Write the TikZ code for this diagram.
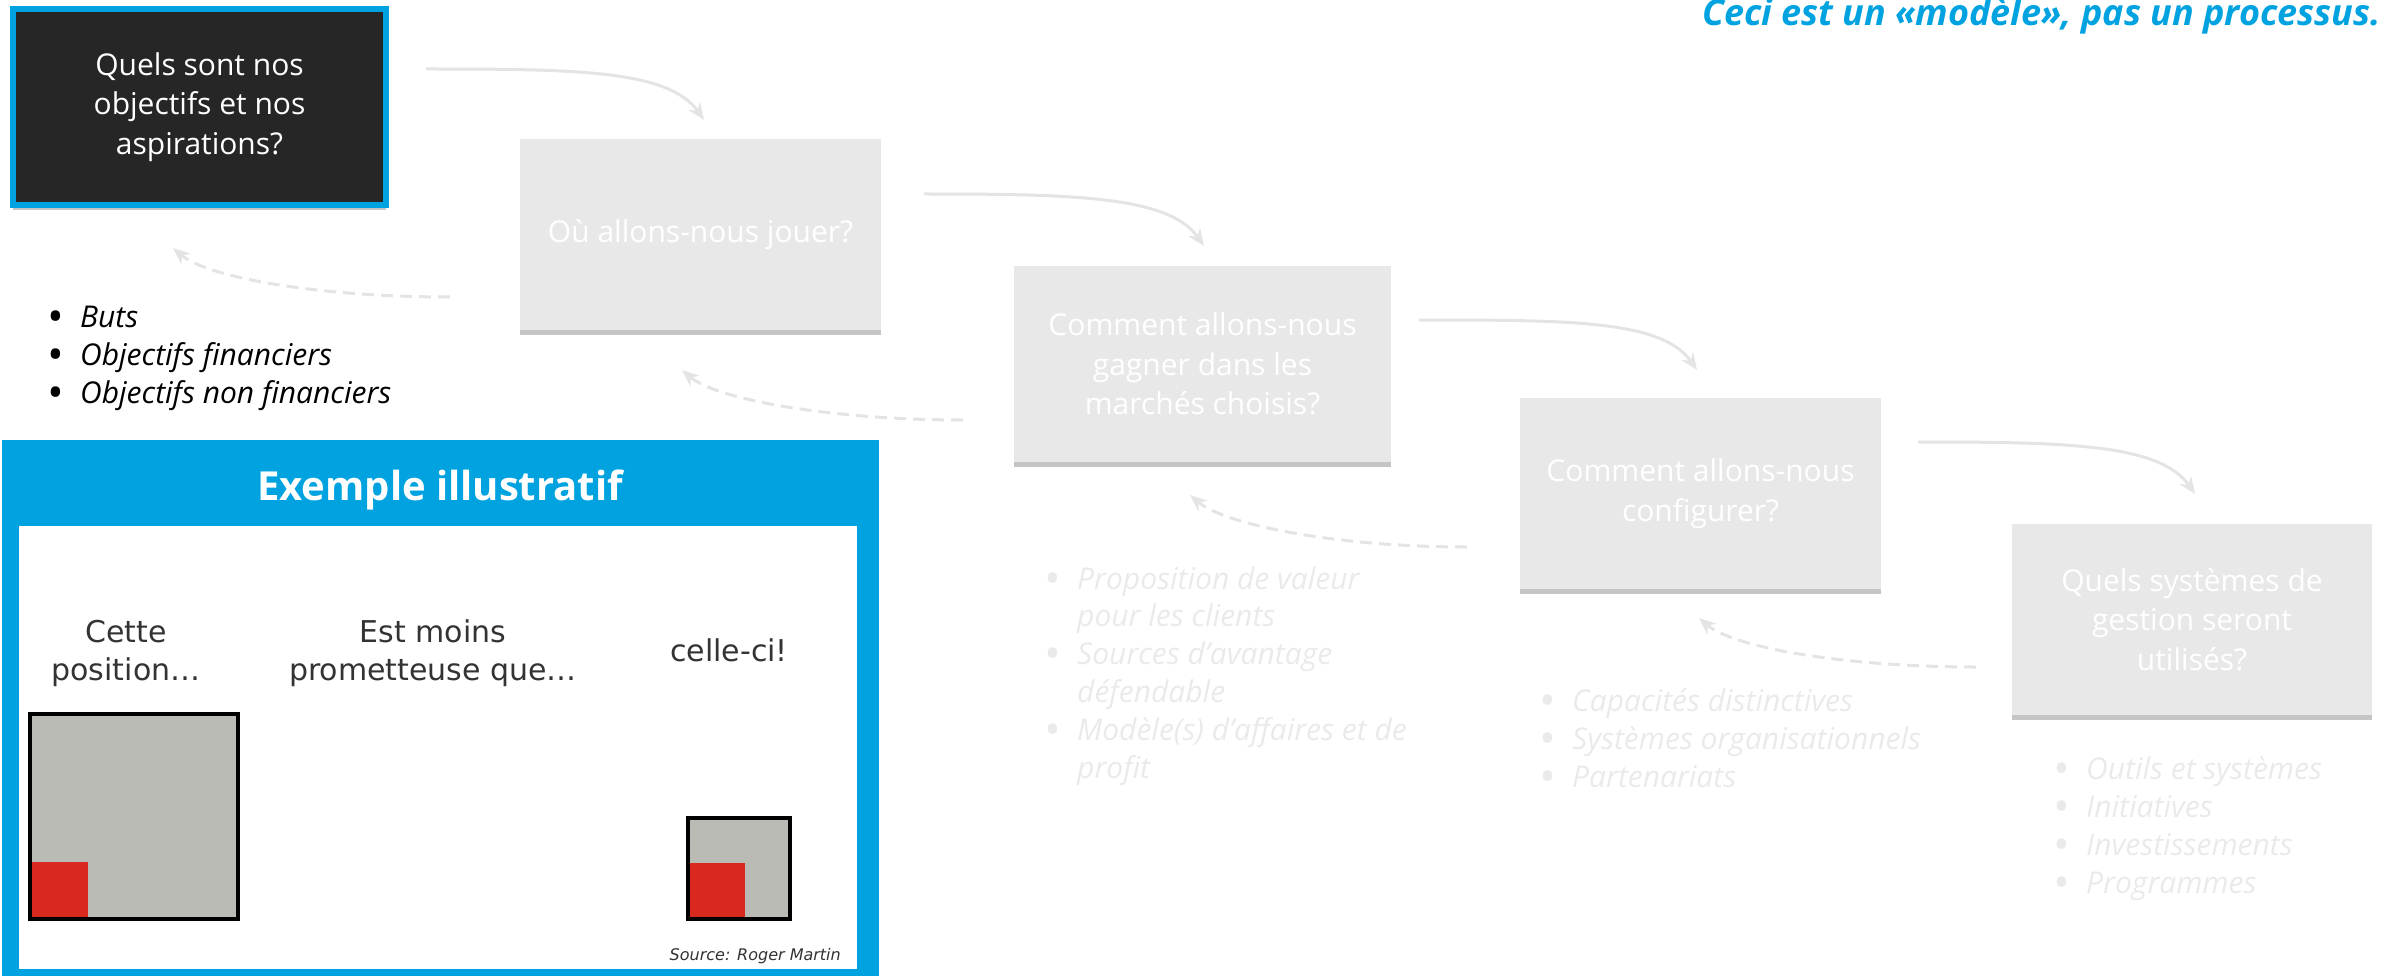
\documentclass[tikz,border=0pt]{standalone}
\usepackage{fontspec}
\usepackage{graphicx}
\setmainfont{Open Sans}
\newfontfamily\dejavu{DejaVu Sans}
\usetikzlibrary{arrows.meta,shadows}
\definecolor{bleu}{RGB}{0,163,224}
\definecolor{fonce}{RGB}{38,38,38}
\definecolor{pale}{RGB}{232,232,232}
\definecolor{trait}{RGB}{228,228,228}
\definecolor{texte}{RGB}{234,234,234}
\definecolor{carre}{RGB}{187,187,182}
\definecolor{rouge}{RGB}{217,41,30}
\definecolor{gris}{RGB}{51,51,51}
\newcommand\puce[1]{\makebox[0pt][r]{\raisebox{-5pt}[0pt][0pt]{\scalebox{1.5}{\textbullet}}\hspace{17pt}}#1}
\tikzset{
  question/.style={fill=pale,text=white,align=center,inner sep=0pt,
    font=\fontsize{30}{39.5}\selectfont,
    drop shadow={shadow xshift=0pt,shadow yshift=-5pt,fill=black!45,opacity=.5}},
  liste/.style={anchor=base west,align=left,inner sep=0pt,
    font=\fontsize{30}{37.8}\selectfont\itshape},
  exemple/.style={anchor=base,align=center,inner sep=0pt,text=gris,
    font=\dejavu\fontsize{30}{38}\selectfont},
  avance/.style={draw=trait,line width=3pt,-{Stealth[length=17pt,width=14pt]}},
  retour/.style={avance,dash pattern=on 12pt off 7pt},
}
\begin{document}
\begin{tikzpicture}[x=1pt,y=-1pt]
\useasboundingbox (0,0) rectangle (2387,976);
\node[anchor=base east,inner sep=0pt,text=bleu,font=\fontsize{36}{40}\selectfont\bfseries\itshape] (titre) at (2381,26) {Ceci est un «modèle», pas un processus.};
\node[question,fill=fonce,draw=bleu,line width=6pt,minimum width=373pt,minimum height=196pt] (q1) at (199.5,107) {Quels sont nos\\objectifs et nos\\aspirations?};
\node[question,minimum width=361pt,minimum height=191pt] (q2) at (700.5,234.5) {Où allons-nous jouer?};
\node[question,minimum width=377pt,minimum height=196pt] (q3) at (1202.5,364) {Comment allons-nous\\gagner dans les\\marchés choisis?};
\node[question,minimum width=361pt,minimum height=191pt] (q4) at (1700.5,493.5) {Comment allons-nous\\configurer?};
\node[question,minimum width=360pt,minimum height=191pt] (q5) at (2192,619.5) {Quels systèmes de\\gestion seront\\utilisés?};
\coordinate (a1) at (426,69); \coordinate (b1) at (704,120);
\coordinate (a2) at (924,194); \coordinate (b2) at (1204,246);
\coordinate (a3) at (1419,320); \coordinate (b3) at (1697,370);
\coordinate (a4) at (1918,442); \coordinate (b4) at (2195,494);
\draw[avance] (a1) .. controls +(150,0) and +(-35,-50) .. (b1);
\draw[avance] (a2) .. controls +(150,0) and +(-35,-50) .. (b2);
\draw[avance] (a3) .. controls +(150,0) and +(-35,-50) .. (b3);
\draw[avance] (a4) .. controls +(150,0) and +(-35,-50) .. (b4);
\coordinate (r1) at (450,297); \coordinate (s1) at (173,248);
\coordinate (r2) at (963,420); \coordinate (s2) at (682,370);
\coordinate (r3) at (1467,547); \coordinate (s3) at (1190,495);
\coordinate (r4) at (1976,667); \coordinate (s4) at (1699,618);
\draw[retour] (r1) .. controls +(-130,0) and +(35,30) .. (s1);
\draw[retour] (r2) .. controls +(-130,0) and +(35,30) .. (s2);
\draw[retour] (r3) .. controls +(-130,0) and +(35,30) .. (s3);
\draw[retour] (r4) .. controls +(-130,0) and +(35,30) .. (s4);
\node[liste] (l1) at (80,403) {\puce{Buts}\\\puce{Objectifs financiers}\\\puce{Objectifs non financiers}};
\node[liste,text=texte] (l3) at (1077,778) {\puce{Proposition de valeur}\\pour les clients\\\puce{Sources d’avantage}\\défendable\\\puce{Modèle(s) d’affaires et de}\\profit};
\node[liste,text=texte] (l4) at (1572,787) {\puce{Capacités distinctives}\\\puce{Systèmes organisationnels}\\\puce{Partenariats}};
\node[liste,text=texte] (l5) at (2086,893) {\puce{Outils et systèmes}\\\puce{Initiatives}\\\puce{Investissements}\\\puce{Programmes}};
\fill[bleu] (2,440) rectangle (879,976);
\fill[white] (19,526) rectangle (857,969);
\node[anchor=base,inner sep=0pt,text=white,font=\fontsize{40}{48}\selectfont\bfseries] (titreex) at (440,500) {Exemple illustratif};
\node[exemple] (cette) at (126,680) {Cette\\position…};
\node[exemple] (moins) at (433,680) {Est moins\\prometteuse que…};
\node[exemple] (celle) at (729,661) {celle-ci!};
\node[anchor=base east,inner sep=0pt,text=gris,font=\dejavu\fontsize{16}{20}\selectfont\itshape] (source) at (841,960) {Source: Roger Martin};
\fill[carre] (30,714) rectangle (238,919);
\fill[rouge] (32,862) rectangle (88,917);
\draw[line width=4pt] (30,714) rectangle (238,919);
\fill[carre] (688,818) rectangle (790,919);
\fill[rouge] (690,863) rectangle (745,917);
\draw[line width=4pt] (688,818) rectangle (790,919);
\end{tikzpicture}
\end{document}
